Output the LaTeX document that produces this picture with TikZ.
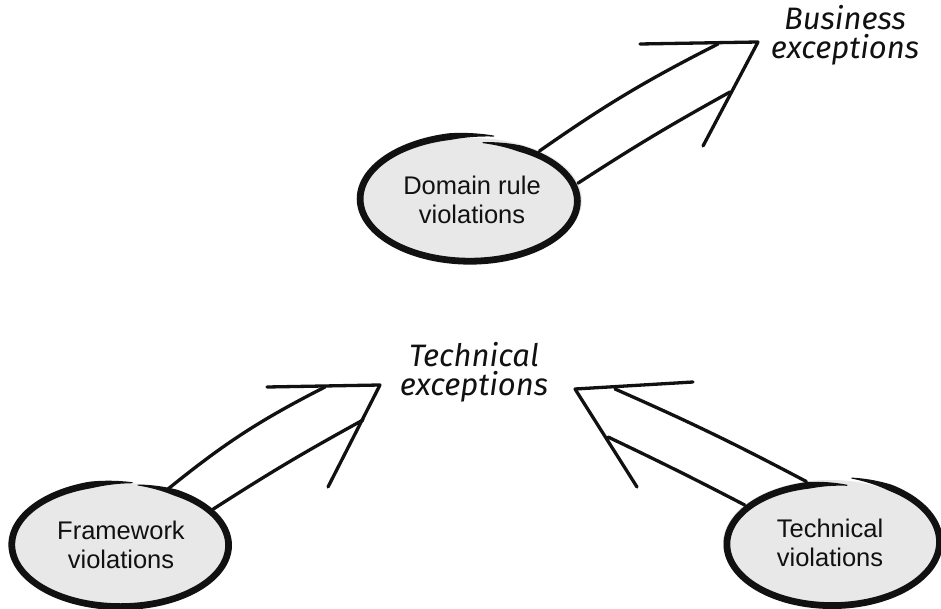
\documentclass[tikz,border=0pt]{standalone}
\usepackage{fontspec}
\setmainfont{Liberation Sans}
\newfontfamily\handfont{Fira Sans}
\usetikzlibrary{shapes.geometric}

\definecolor{bubblefill}{HTML}{E8E8E8}
\definecolor{inkblack}{HTML}{111111}

% A marker-pen outline: one stroke round an ellipse, thin at both ends.
% #1,#2 centre  #3,#4 radii  #5 -> #6 parameter angles (clockwise)
% #7,#8 radius factor at the start and at the end
\newcommand\handrim[8]{%
  \fill[inkblack]
    plot[domain=#5:#6, samples=220, smooth]
      ({#1+(#3*(#7+(#8-#7)*(#5-\x)/(#5-(#6)))+0.5*(1+5.8*min(1,(#5-\x)/22,(\x-(#6))/22)))*cos(\x)},
       {#2-(#4*(#7+(#8-#7)*(#5-\x)/(#5-(#6)))+0.5*(1+5.8*min(1,(#5-\x)/22,(\x-(#6))/22)))*sin(\x)})
    -- plot[domain=#6:#5, samples=220, smooth]
      ({#1+(#3*(#7+(#8-#7)*(#5-\x)/(#5-(#6)))-0.5*(1+5.8*min(1,(#5-\x)/22,(\x-(#6))/22)))*cos(\x)},
       {#2-(#4*(#7+(#8-#7)*(#5-\x)/(#5-(#6)))-0.5*(1+5.8*min(1,(#5-\x)/22,(\x-(#6))/22)))*sin(\x)})
    -- cycle;}

\begin{document}
\begin{tikzpicture}[x=1pt,y=-1pt,
  bubble/.style={ellipse, fill=bubblefill, inner sep=0pt, outer sep=0pt,
    align=center, text=inkblack, font=\fontsize{25.5}{29.5}\selectfont},
  shaft/.style={draw=inkblack, line width=3.3pt, line cap=round, line join=round},
  note/.style={font=\handfont\itshape\fontsize{31}{29}\selectfont,
    align=center, inner sep=0pt, text=inkblack}
]
\useasboundingbox[fill=white] (0,0) rectangle (941,609);

% ---------- bubbles ----------
\node[bubble, minimum width=220pt, minimum height=124pt] (dom) at (472,200) {Domain rule\\violations};
\node[bubble, minimum width=218pt, minimum height=124pt] (fw) at (121,545) {Framework\\violations};
\node[bubble, minimum width=214pt, minimum height=126pt] (tv) at (830,543) {Technical\\violations};

% hand-drawn outlines, ends overlapping at the top
\handrim{472}{200}{110}{62}{84}{-281}{0.93}{1.05}
\handrim{121}{545}{109}{62}{81}{-276}{0.98}{1.01}
\handrim{830}{543}{107}{63}{79}{-280}{1.05}{0.93}

% ---------- labels ----------
\node[note] (biz) at (845,35) {Business\\exceptions};
\node[note] (tech) at (474,372) {Technical\\exceptions};

% ---------- wide arrows ----------
% domain rule violations -> business exceptions
\coordinate (dU) at (718,44);
\coordinate (dL) at (730,92);
\coordinate (dH) at (640,44);
\coordinate (dT) at (758,42);
\coordinate (dB) at (703,146);
\draw[shaft] (dom.36) to[bend left=4] (dU);
\draw[shaft] (dom.9) to[bend left=2] (dL);
\draw[shaft] (dH) -- (dT) -- (dB);

% framework violations -> technical exceptions
\coordinate (fU) at (325,387);
\coordinate (fL) at (363,420);
\coordinate (fH) at (267,387);
\coordinate (fT) at (380,385);
\coordinate (fB) at (328,487);
\draw[shaft] (fw.50) to[bend left=6] (fU);
\draw[shaft] (fw.21) to[bend left=2] (fL);
\draw[shaft] (fH) -- (fT) -- (fB);

% technical violations -> technical exceptions
\coordinate (tU) at (615,389);
\coordinate (tL) at (608,437);
\coordinate (tH) at (693,382);
\coordinate (tT) at (575,389);
\coordinate (tB) at (637,487);
\draw[shaft] (tv.111) to[bend right=2] (tU);
\draw[shaft] (tv.156) to[bend right=1] (tL);
\draw[shaft] (tH) -- (tT) -- (tB);
\end{tikzpicture}
\end{document}
